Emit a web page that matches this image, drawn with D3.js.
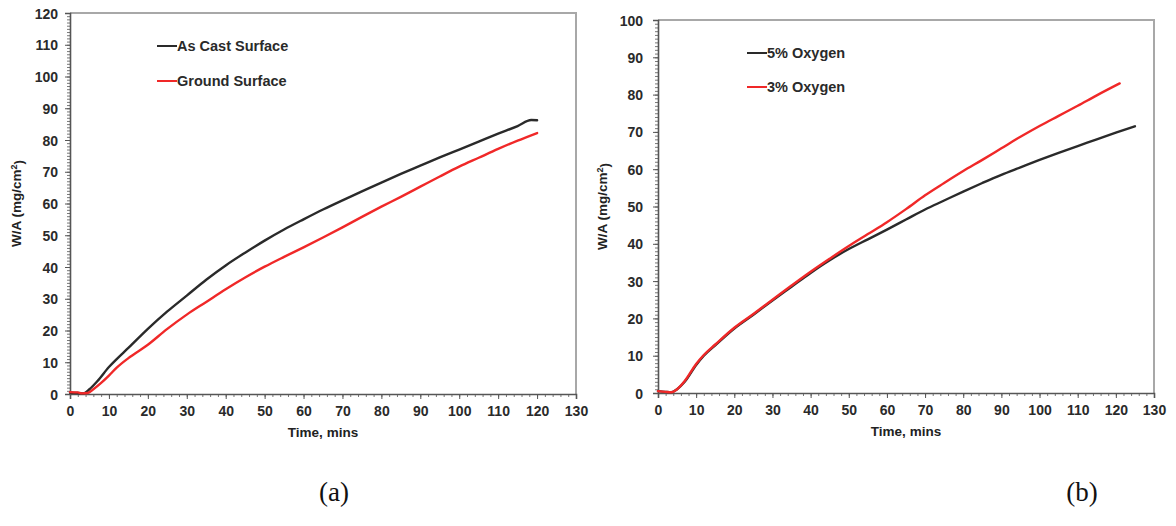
<!DOCTYPE html>
<html>
<head>
<meta charset="utf-8">
<script src="https://cdn.jsdelivr.net/npm/d3@7"></script>
<style>
  html, body { margin: 0; padding: 0; background: #fff; }
  svg { display: block; }
  .tick-label { font-family: "Liberation Sans", Arial, sans-serif; font-weight: bold; font-size: 14px; fill: #2a2a2a; }
  .axis-title { font-family: "Liberation Sans", Arial, sans-serif; font-weight: bold; font-size: 13.5px; fill: #222; }
  .legend-text { font-family: "Liberation Sans", Arial, sans-serif; font-weight: bold; font-size: 14.5px; fill: #2a2a2a; }
  .caption { font-family: "Liberation Serif", "Times New Roman", serif; font-size: 27px; fill: #111; }
</style>
</head>
<body>
<svg id="fig" width="1176" height="526"></svg>
<script>
// ---- Panel (a): weight gain per area, as-cast vs ground surface ----
const timeAsCast = [0, 2, 3.5, 5, 7, 10, 12, 15, 20, 25, 30, 35, 40, 45, 50, 55, 60, 65, 70, 75, 80, 85, 90, 95, 100, 105, 110, 115, 118.5, 120];
const wAsCast    = [0.4, 0.3, 0.2, 1.5, 4, 8.5, 11, 14.5, 20.5, 26, 31, 36, 40.5, 44.5, 48.3, 51.8, 55, 58.1, 61, 63.8, 66.6, 69.3, 71.9, 74.5, 77, 79.5, 82, 84.4, 86.3, 86.2];
const timeGround = [0, 2, 3, 4.5, 6, 8, 10, 12, 15, 20, 25, 30, 35, 40, 45, 50, 55, 60, 65, 70, 75, 80, 85, 90, 95, 100, 105, 110, 115, 120];
const wGround    = [0.6, 0.5, 0.2, 0.3, 1.5, 3.5, 5.8, 8.3, 11.3, 15.5, 20.5, 25, 29, 33, 36.7, 40.1, 43.2, 46.2, 49.3, 52.5, 55.8, 59, 62.1, 65.3, 68.5, 71.6, 74.4, 77.2, 79.8, 82.2];

// ---- Panel (b): weight gain per area, 5% vs 3% oxygen ----
const time5O2 = [0, 2, 3.5, 5, 7, 10, 12, 15, 20, 25, 30, 35, 40, 45, 50, 55, 60, 65, 70, 75, 80, 85, 90, 95, 100, 105, 110, 115, 120, 125];
const w5O2    = [0.5, 0.3, 0.2, 1, 3, 7.5, 10, 12.8, 17.3, 21, 24.8, 28.5, 32.2, 35.6, 38.6, 41.2, 43.8, 46.5, 49.2, 51.6, 54, 56.3, 58.5, 60.5, 62.5, 64.4, 66.2, 68, 69.8, 71.5];
const time3O2 = [0, 2, 3.5, 5, 7, 10, 12, 15, 20, 25, 30, 35, 40, 45, 50, 55, 60, 65, 70, 75, 80, 85, 90, 95, 100, 105, 110, 115, 121];
const w3O2    = [0.5, 0.3, 0.2, 1, 3.2, 7.8, 10.2, 13, 17.5, 21.2, 25, 28.8, 32.5, 36, 39.4, 42.6, 45.8, 49.3, 53, 56.3, 59.5, 62.5, 65.6, 68.7, 71.6, 74.3, 77, 79.8, 83];

// Tick values
const xTicks  = d3.range(0, 131, 10);
const yTicksA = d3.range(0, 121, 10);
const yTicksB = d3.range(0, 101, 10);

// Legend labels, captions and axis titles
const legendA = ["As Cast Surface", "Ground Surface"];
const legendB = ["5% Oxygen", "3% Oxygen"];
const captions = ["(a)", "(b)"];
const xTitle = "Time, mins";

const BLACK = "#2a2a2a";
const RED = "#f02828";

const svg = d3.select("#fig");

function zip(t, v) { return t.map((d, i) => ({ t: d, v: v[i] })); }

function drawPanel(cfg) {
  const g = svg.append("g");
  const x = d3.scaleLinear().domain([0, 130]).range([cfg.left, cfg.right]);
  const y = d3.scaleLinear().domain([0, cfg.yMax]).range([cfg.bottom, cfg.top]);

  // Frame on the top and right
  g.append("path")
    .attr("d", `M${cfg.left},${cfg.top}H${cfg.right}V${cfg.bottom}`)
    .attr("fill", "none").attr("stroke", "#a8a8a8").attr("stroke-width", 2);

  // Minor ticks (x every 2, y every 1)
  const xMinor = d3.axisBottom(x).tickValues(d3.range(0, 131, 2)).tickSize(3).tickFormat("");
  const yMinor = d3.axisLeft(y).tickValues(d3.range(0, cfg.yMax + 1, 1)).tickSize(3).tickFormat("");
  const xMinorG = g.append("g").attr("transform", `translate(0,${cfg.bottom})`).call(xMinor);
  const yMinorG = g.append("g").attr("transform", `translate(${cfg.left},0)`).call(yMinor);
  [xMinorG, yMinorG].forEach(a => {
    a.select(".domain").remove();
    a.selectAll("line").attr("stroke", "#777").attr("stroke-width", 1);
  });

  // Major ticks with labels
  const xAxis = d3.axisBottom(x).tickValues(xTicks).tickSize(5).tickPadding(7);
  const yAxis = d3.axisLeft(y).tickValues(cfg.yTicks).tickSize(5).tickPadding(cfg.yPad);
  const xg = g.append("g").attr("transform", `translate(0,${cfg.bottom})`).call(xAxis);
  const yg = g.append("g").attr("transform", `translate(${cfg.left},0)`).call(yAxis);
  [xg, yg].forEach(a => {
    a.select(".domain").attr("stroke", "#555").attr("stroke-width", 1.6);
    a.selectAll("line").attr("stroke", "#555").attr("stroke-width", 1);
    a.selectAll("text").attr("class", "tick-label").attr("fill", null);
  });
  yg.selectAll("text").attr("dy", "0.36em");

  // Axis titles
  g.append("text").attr("class", "axis-title")
    .attr("x", (cfg.left + cfg.right) / 2).attr("y", cfg.bottom + 43)
    .attr("text-anchor", "middle").text(xTitle);
  const yt = g.append("text").attr("class", "axis-title")
    .attr("transform", `translate(${cfg.yTitleX},${(cfg.top + cfg.bottom) / 2}) rotate(-90)`)
    .attr("text-anchor", "middle");
  yt.append("tspan").text("W/A (mg/cm");
  yt.append("tspan").attr("dy", "-0.4em").attr("font-size", "9px").text("2");
  yt.append("tspan").attr("dy", "0.4em").text(")");

  // Data lines
  const line = d3.line().x(d => x(d.t)).y(d => y(d.v)).curve(d3.curveMonotoneX);
  cfg.series.forEach(s => {
    g.append("path").datum(zip(s.t, s.v))
      .attr("d", line).attr("fill", "none")
      .attr("stroke", s.color).attr("stroke-width", 2.4)
      .attr("stroke-linejoin", "round").attr("stroke-linecap", "round");
  });

  // Legend
  cfg.series.forEach((s, i) => {
    const ly = cfg.legendY + i * cfg.legendGap;
    g.append("line")
      .attr("x1", cfg.legendX).attr("x2", cfg.legendX + 20)
      .attr("y1", ly).attr("y2", ly)
      .attr("stroke", s.color).attr("stroke-width", 2);
    g.append("text").attr("class", "legend-text")
      .attr("x", cfg.legendX + 20).attr("y", ly).attr("dy", "0.36em")
      .text(cfg.legend[i]);
  });

  // Caption
  g.append("text").attr("class", "caption")
    .attr("x", cfg.captionX).attr("y", 501)
    .attr("text-anchor", "middle").text(cfg.caption);
}

drawPanel({
  left: 70, right: 576, top: 13, bottom: 394, yMax: 120, yTicks: yTicksA, yPad: 7,
  yTitleX: 21, legendX: 157, legendY: 46, legendGap: 35, legend: legendA,
  caption: captions[0], captionX: 334,
  series: [
    { t: timeAsCast, v: wAsCast, color: BLACK },
    { t: timeGround, v: wGround, color: RED }
  ]
});

drawPanel({
  left: 658, right: 1154, top: 20, bottom: 393, yMax: 100, yTicks: yTicksB, yPad: 10,
  yTitleX: 607, legendX: 747, legendY: 53, legendGap: 34, legend: legendB,
  caption: captions[1], captionX: 1082,
  series: [
    { t: time5O2, v: w5O2, color: BLACK },
    { t: time3O2, v: w3O2, color: RED }
  ]
});
</script>
</body>
</html>
